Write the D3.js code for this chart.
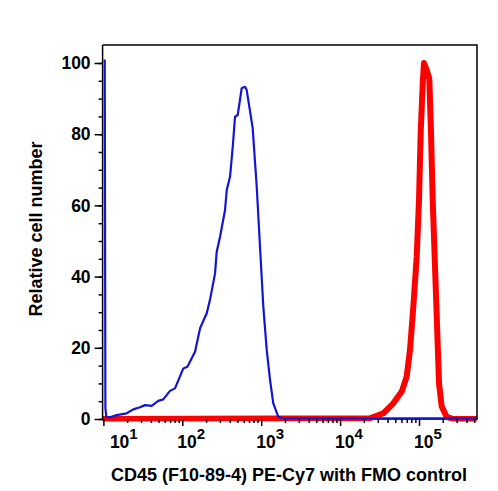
<!DOCTYPE html>
<html>
<head>
<meta charset="utf-8">
<script src="https://cdn.jsdelivr.net/npm/d3@7"></script>
<style>
  html, body { margin: 0; padding: 0; background: #fff; }
  svg { display: block; }
  text { font-family: "Liberation Sans", Arial, Helvetica, sans-serif; font-weight: bold; fill: #000; }
</style>
</head>
<body>
<svg id="chart" width="498" height="491"></svg>
<script>
// ---- data (fluorescence intensity vs relative cell number) ----
const fmoX = [10.4, 10.6, 10.9, 12.1, 14.7, 19.7, 23.9, 29.1, 33.7, 40.9, 49.6, 57.4, 69.8, 80.8, 103, 116, 145, 168, 204, 224, 260, 273, 301, 348, 366, 403, 436, 466, 504, 566, 624, 655, 780, 877, 966, 1064, 1175, 1294, 1423, 1648, 1905, 540000];
const fmoY = [101, 3, 0.6, 0.5, 1.1, 1.6, 2.7, 3.3, 3.9, 3.7, 5.1, 5.5, 7.9, 8.6, 14.2, 14.7, 18.9, 25.5, 29.7, 33.4, 40.9, 47.0, 51.2, 58.7, 64.3, 68.1, 76.5, 84.9, 85.4, 92.9, 93.3, 92.4, 81.7, 65.3, 48.4, 31.5, 19.4, 11.0, 4.4, 0.6, 0.2, 0.2];

const cd45X = [9, 23930, 35300, 47200, 60400, 69800, 76900, 84700, 93500, 100000, 105000, 111500, 115700, 127400, 135100, 142000, 149200, 159600, 170600, 179400, 194100, 224200, 272100, 540000];
const cd45Y = [0, 0.2, 1.6, 4.4, 7.7, 11.9, 19.4, 31.5, 45.6, 61.5, 80.3, 94.3, 100, 97.5, 95.6, 80.3, 61.5, 42.8, 24.1, 10.0, 3.5, 0.6, 0, 0];

const xMajorTicks = [10, 100, 1000, 10000, 100000];
const xTickExponents = ["1", "2", "3", "4", "5"];
const yMajorTicks = [0, 20, 40, 60, 80, 100];
const xTitle = "CD45 (F10-89-4) PE-Cy7 with FMO control";
const yTitle = "Relative cell number";

// ---- layout ----
const pL = 103.4, pR = 477, pT = 45, pB = 419, axX = 102.6;
const svg = d3.select("#chart");

const x = d3.scaleLog().domain([10, Math.pow(10, 1 + (pR - pL) / 78.9)]).range([pL, pR]);
const y = d3.scaleLinear().domain([0, (pB - pT) / 3.56]).range([pB, pT]);

// clip
svg.append("clipPath").attr("id", "clip").append("rect")
  .attr("x", axX).attr("y", pT).attr("width", pR - axX).attr("height", pB - pT + 2.5);

const line = d3.line().x(d => x(d[0])).y(d => y(d[1]));

// axis lines (under the data)
svg.append("line").attr("x1", axX).attr("x2", pR + 0.75).attr("y1", pB).attr("y2", pB)
  .attr("stroke", "#000").attr("stroke-width", 1.5);

const plot = svg.append("g").attr("clip-path", "url(#clip)");
plot.append("path").datum(d3.zip(cd45X, cd45Y))
  .attr("d", line).attr("fill", "none").attr("stroke", "#ff0000")
  .attr("stroke-width", 6).attr("stroke-linejoin", "round");

// frame top and right
svg.append("path")
  .attr("d", `M${axX},${pT}H${pR}V${pB}`)
  .attr("fill", "none").attr("stroke", "#000").attr("stroke-width", 1.5);
svg.append("line").attr("x1", axX).attr("x2", axX).attr("y1", pT).attr("y2", pB + 1)
  .attr("stroke", "#000").attr("stroke-width", 1.5);

plot.append("path").datum(d3.zip(fmoX, fmoY))
  .attr("d", line).attr("fill", "none").attr("stroke", "#1414d4")
  .attr("stroke-width", 2.2).attr("stroke-linejoin", "round");

// y axis
const yMinor = d3.range(0, 101, 5);
const yAxisMinor = d3.axisLeft(y).tickValues(yMinor).tickSize(4).tickFormat("");
const yAxisMajor = d3.axisLeft(y).tickValues(yMajorTicks).tickSize(8).tickPadding(4);
const gy1 = svg.append("g").attr("transform", `translate(${axX},0)`).call(yAxisMinor);
const gy2 = svg.append("g").attr("transform", `translate(${axX},0)`).call(yAxisMajor);
[gy1, gy2].forEach(g => {
  g.attr("font-family", null).attr("font-size", null);
  g.selectAll("path.domain").remove();
  g.selectAll("line").attr("stroke", "#000").attr("stroke-width", 1.5);
});
gy2.selectAll("text").style("font-size", "17.5px");

// x axis
const xMinor = [];
for (let e = 1; e <= 5; e++) for (let m = 2; m <= 9; m++) {
  const v = m * Math.pow(10, e);
  if (v <= x.domain()[1]) xMinor.push(v);
}
const gx1 = svg.append("g").attr("transform", `translate(0,${pB})`)
  .call(d3.axisBottom(x).tickValues(xMinor).tickSize(4).tickFormat(""));
const gx2 = svg.append("g").attr("transform", `translate(0,${pB})`)
  .call(d3.axisBottom(x).tickValues(xMajorTicks).tickSize(7).tickFormat(""));
[gx1, gx2].forEach(g => {
  g.selectAll("path.domain").remove();
  g.selectAll("line").attr("stroke", "#000").attr("stroke-width", 1.5);
});

// x tick labels with superscripts
xMajorTicks.forEach((v, i) => {
  const t = svg.append("text")
    .attr("x", Math.max(x(v) - 5, pL + 6.5))
    .attr("y", 448)
    .style("font-size", "17.5px");
  t.append("tspan").text("10");
  t.append("tspan").attr("dy", -9.5).style("font-size", "15px").text(xTickExponents[i]);
});

// titles
svg.append("text").attr("x", 289).attr("y", 481)
  .attr("text-anchor", "middle").style("font-size", "18px").text(xTitle);
svg.append("text").attr("transform", `translate(42,229) rotate(-90)`)
  .attr("text-anchor", "middle").style("font-size", "18px").text(yTitle);
</script>
</body>
</html>
